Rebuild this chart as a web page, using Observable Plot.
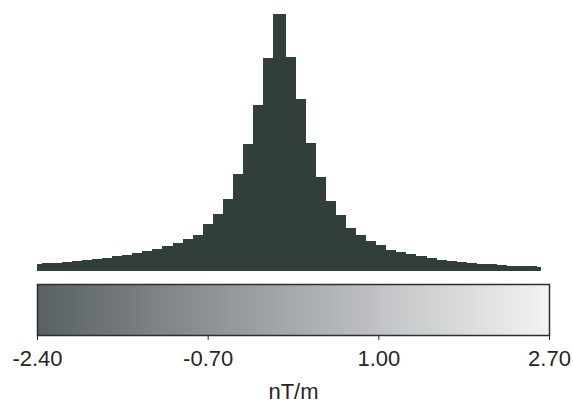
<!DOCTYPE html>
<html>
<head>
<meta charset="utf-8">
<script src="https://cdn.jsdelivr.net/npm/d3@7"></script>
<script src="https://cdn.jsdelivr.net/npm/@observablehq/plot@0.6"></script>
<style>
  html, body { margin: 0; padding: 0; background: #ffffff; }
  #chart { width: 573px; height: 405px; overflow: hidden; }
  #chart svg { display: block; }
</style>
</head>
<body>
<div id="chart"></div>
<script>
// Bin edges (nT/m)
const binEdges = [
  -2.40, -2.35, -2.25, -2.15, -2.05, -1.95, -1.85, -1.75, -1.65, -1.55, -1.45,
  -1.35, -1.25, -1.15, -1.05, -0.95, -0.85, -0.75, -0.65, -0.55, -0.45,
  -0.35, -0.25, -0.15, -0.05, 0.08, 0.18, 0.28, 0.38, 0.48, 0.58, 0.68,
  0.78, 0.88, 0.98, 1.08, 1.18, 1.28, 1.38, 1.48, 1.58, 1.68, 1.78, 1.88,
  1.98, 2.08, 2.18, 2.28, 2.38, 2.48, 2.58, 2.62
];
// Counts per bin (left to right)
const binCounts = [
  72, 77, 82, 89, 97, 107, 117, 132, 147, 164, 182, 200, 220, 247, 280, 320,
  364, 474, 574, 724, 967, 1267, 1657, 2127,
  2567,
  2140, 1714, 1280, 940, 704, 557, 434, 357, 300, 257, 212, 187, 170, 147,
  130, 114, 104, 90, 80, 74, 67, 60, 54, 50, 47, 42
];
// Colour bar
const colorDomain = [-2.40, 2.70];
const colorRange = ["#5a6163", "#f3f3f5"];
const tickValues = [-2.40, -0.70, 1.00, 2.70];
const unitLabel = "nT/m";

const bins = binCounts.map((c, i) => ({x1: binEdges[i], x2: binEdges[i + 1], count: c}));

const font = "'Liberation Sans', Arial, Helvetica, sans-serif";
const barColor = "#323e3c";

const hist = Plot.plot({
  width: 573,
  height: 276,
  marginTop: 14,
  marginBottom: 5,
  marginLeft: 37,
  marginRight: 24,
  style: {background: "#ffffff", fontFamily: font},
  x: {domain: colorDomain, axis: null},
  y: {domain: [0, d3.max(binCounts)], axis: null},
  marks: [
    Plot.rectY(bins, {x1: "x1", x2: "x2", y: "count", fill: barColor, inset: 0, shapeRendering: "crispEdges"})
  ]
});

const bar = Plot.plot({
  width: 573,
  height: 129,
  marginTop: 8,
  marginBottom: 70,
  marginLeft: 37,
  marginRight: 24,
  style: {background: "#ffffff", fontFamily: font, fontSize: "22px", color: "#262626"},
  x: {domain: colorDomain},
  y: {domain: [0, 1], axis: null},
  color: {type: "linear", domain: colorDomain, range: colorRange},
  marks: [
    Plot.raster({fill: (x, y) => x, x1: colorDomain[0], x2: colorDomain[1], y1: 0, y2: 1, width: 512, height: 1, imageRendering: "auto"}),
    Plot.frame({stroke: "#2a2f30", strokeWidth: 1.5}),
    Plot.axisX({
      ticks: tickValues,
      tickFormat: d => d.toFixed(2),
      tickSize: 5,
      tickPadding: 10,
      fontSize: 22,
      label: unitLabel,
      labelAnchor: "center",
      labelArrow: "none",
      labelOffset: 63
    })
  ]
});

const root = document.getElementById("chart");
root.appendChild(hist);
root.appendChild(bar);
</script>
</body>
</html>
